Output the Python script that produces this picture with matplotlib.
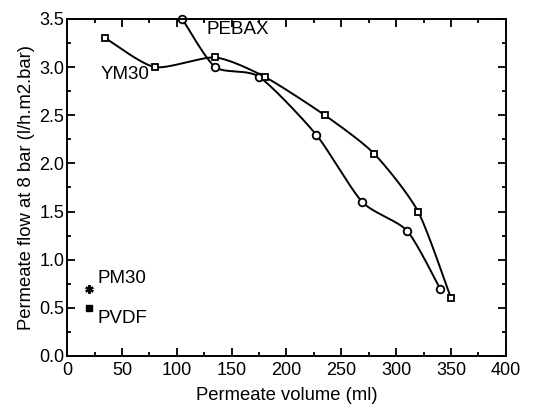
import numpy as np
import matplotlib.pyplot as plt

plt.rcParams['font.family'] = ['Liberation Sans', 'DejaVu Sans']

# data
pebax_x = [105, 135, 175, 227, 269, 310, 340]
pebax_y = [3.5, 3.0, 2.9, 2.3, 1.6, 1.3, 0.7]
ym30_x = [35, 80, 135, 180, 235, 280, 320, 350]
ym30_y = [3.3, 3.0, 3.1, 2.9, 2.5, 2.1, 1.5, 0.6]
pm30_x = [20]
pm30_y = [0.7]
pvdf_x = [20]
pvdf_y = [0.5]


def smooth(xs, ys, n=30, k=0.35):
    # cardinal spline through the points (only used for the drawn line)
    p = np.column_stack([xs, ys]).astype(float)
    m = np.zeros_like(p)
    m[1:-1] = k * (p[2:] - p[:-2])
    m[0] = k * (p[1] - p[0])
    m[-1] = k * (p[-1] - p[-2])
    t = np.linspace(0, 1, n)[:, None]
    h00 = 2 * t**3 - 3 * t**2 + 1
    h10 = t**3 - 2 * t**2 + t
    h01 = -2 * t**3 + 3 * t**2
    h11 = t**3 - t**2
    out = [h00 * p[i] + h10 * m[i] + h01 * p[i + 1] + h11 * m[i + 1]
           for i in range(len(p) - 1)]
    out = np.vstack(out)
    return out[:, 0], out[:, 1]


fig = plt.figure(figsize=(5.41, 4.12), dpi=100)
ax = fig.add_axes([0.124, 0.136, 0.811, 0.818])

sx, sy = smooth(pebax_x, pebax_y)
ax.plot(sx, sy, color='black', lw=1.4)
ax.plot(pebax_x, pebax_y, 'o', ms=5.5, mfc='white', mec='black', mew=1.3, clip_on=False)

sx, sy = smooth(ym30_x, ym30_y)
ax.plot(sx, sy, color='black', lw=1.4)
ax.plot(ym30_x, ym30_y, 's', ms=5, mfc='white', mec='black', mew=1.3, clip_on=False)

ax.plot(pm30_x, pm30_y, marker=(6, 2, 0), ms=6, color='black', mew=1.6, ls='none')
ax.plot(pvdf_x, pvdf_y, 's', ms=5, color='black', ls='none')

ax.text(127, 3.39, 'PEBAX', fontsize=13.5, va='center')
ax.text(31, 2.92, 'YM30', fontsize=13.5, va='center')
ax.text(28, 0.80, 'PM30', fontsize=13.5, va='center')
ax.text(28, 0.39, 'PVDF', fontsize=13.5, va='center')

ax.set_xlim(0, 400)
ax.set_ylim(0, 3.5)
ax.set_xticks(np.arange(0, 401, 50))
ax.set_xticks(np.arange(0, 401, 25), minor=True)
ax.set_yticks(np.arange(0, 3.51, 0.5))
ax.set_yticks(np.arange(0, 3.51, 0.25), minor=True)
ax.set_yticklabels([f'{v:.1f}' for v in np.arange(0, 3.51, 0.5)])
ax.tick_params(which='both', direction='in', top=True, right=True, labelsize=13, width=1.3)
ax.tick_params(which='major', length=6)
ax.tick_params(which='minor', length=3)
ax.tick_params(axis='x', which='major', pad=4)
ax.tick_params(axis='y', which='major', pad=2)
for s in ax.spines.values():
    s.set_linewidth(1.4)

ax.set_xlabel('Permeate volume (ml)', fontsize=13.3, labelpad=6)
ax.set_ylabel('Permeate flow at 8 bar (l/h.m2.bar)', fontsize=13.3, labelpad=3)

fig.savefig('out.png', dpi=100)
